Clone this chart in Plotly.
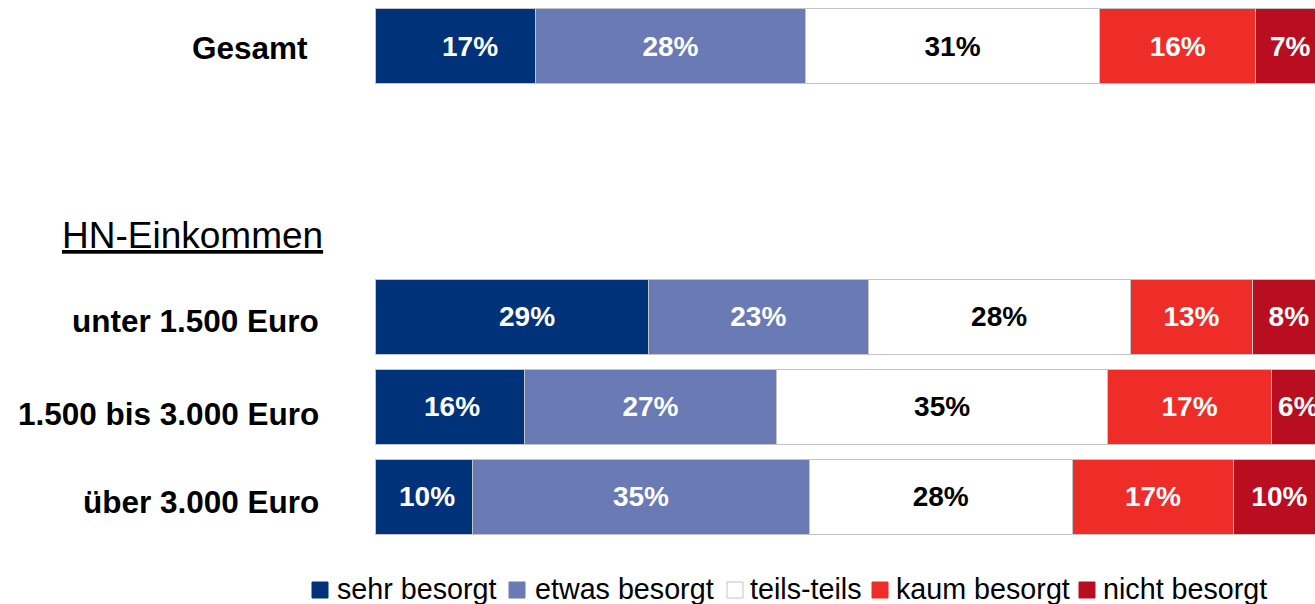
import plotly.graph_objects as go

# ---------------- data ----------------
categories = ["Gesamt", "unter 1.500 Euro", "1.500 bis 3.000 Euro", "über 3.000 Euro"]
series_names = ["sehr besorgt", "etwas besorgt", "teils-teils", "kaum besorgt", "nicht besorgt"]
sehr_besorgt = [16.9, 28.8, 15.7, 10.3]
etwas_besorgt = [28.4, 23.1, 26.6, 35.4]
teils_teils = [31.0, 27.6, 34.8, 27.7]
kaum_besorgt = [16.4, 12.9, 17.3, 17.0]
nicht_besorgt = [7.3, 7.6, 5.6, 9.6]
group_heading = "HN-Einkommen"

series_values = [sehr_besorgt, etwas_besorgt, teils_teils, kaum_besorgt, nicht_besorgt]

# ---------------- style ----------------
colors = ["#00327A", "#6A7AB5", "#FFFFFF", "#EE2D29", "#B90E20"]
text_colors = ["white", "white", "black", "white", "white"]
y_slots = [0, 3, 4, 5]  # row positions (slot 1 empty, slot 2 = heading)
first_label_shift = [15, 15, 2, 3]  # pixel nudges of the first segment labels
FONT = "Liberation Sans, Arial, sans-serif"

W, H = 1315, 604
ML, MR, MT, MB = 375, 0, 1, 62
PW, PH = W - ML - MR, H - MT - MB


def px2x(px):
    return (px - ML) / PW


def py2y(py):
    return (H - MB - py) / PH


fig = go.Figure()
annotations = []
for i, (name, vals, col, tcol) in enumerate(zip(series_names, series_values, colors, text_colors)):
    fig.add_trace(go.Bar(
        y=y_slots, x=vals, name=name, orientation="h",
        marker=dict(color=col, line=dict(color="#C4C4C4", width=1)),
        width=0.83,
        texttemplate="%{x:.0f}%" if i > 0 else None,
        textposition="inside" if i > 0 else "none",
        insidetextanchor="middle", textangle=0,
        insidetextfont=dict(family=FONT, size=28, color=tcol, weight="bold"),
        constraintext="none",
        showlegend=False, hoverinfo="skip",
    ))

# labels of first segment (slightly nudged right as in the original)
for v, ys, sh in zip(sehr_besorgt, y_slots, first_label_shift):
    annotations.append(dict(
        text=f"<b>{v:.0f}%</b>", xref="x", yref="y", x=v / 2, y=ys,
        xshift=sh, xanchor="center", yanchor="middle", showarrow=False,
        font=dict(family=FONT, size=28, color=text_colors[0]),
    ))

# category labels
label_pos = [(310, 48), (321, 321), (321, 414), (321, 502)]
for cat, (rx, cy) in zip(categories, label_pos):
    annotations.append(dict(
        text=f"<b>{cat}</b>", xref="paper", yref="paper",
        x=px2x(rx), y=py2y(cy), xanchor="right", yanchor="middle",
        showarrow=False, font=dict(family=FONT, size=31.5, color="black"),
    ))
# group heading
annotations.append(dict(
    text=f"<u>{group_heading}</u>", xref="paper", yref="paper",
    x=px2x(192.5), y=py2y(235), xanchor="center", yanchor="middle",
    showarrow=False, font=dict(family=FONT, size=37, color="black"),
))

# manual legend
legend_sq_x = [312, 509, 727, 872, 1079]
legend_text_x = [335, 533, 748, 894, 1101]
shapes = []
for name, col, sx, tx in zip(series_names, colors, legend_sq_x, legend_text_x):
    shapes.append(dict(
        type="rect", xref="paper", yref="paper",
        x0=px2x(sx), x1=px2x(sx + 16), y0=py2y(598), y1=py2y(582),
        fillcolor=col, line=dict(color="#C4C4C4" if col == "#FFFFFF" else col, width=1),
    ))
    annotations.append(dict(
        text=name, xref="paper", yref="paper",
        x=px2x(tx), y=py2y(589), xanchor="left", yanchor="middle",
        showarrow=False, font=dict(family=FONT, size=28.7, color="black"),
    ))

fig.update_layout(
    barmode="stack",
    width=W, height=H,
    margin=dict(l=ML, r=MR, t=MT, b=MB, pad=0),
    paper_bgcolor="white", plot_bgcolor="white",
    xaxis=dict(range=[0, 98.95], visible=False, fixedrange=True),
    yaxis=dict(range=[5.5, -0.5], visible=False, fixedrange=True),
    annotations=annotations, shapes=shapes,
    showlegend=False,
)

fig.write_html("out.html", config={"displayModeBar": False})
